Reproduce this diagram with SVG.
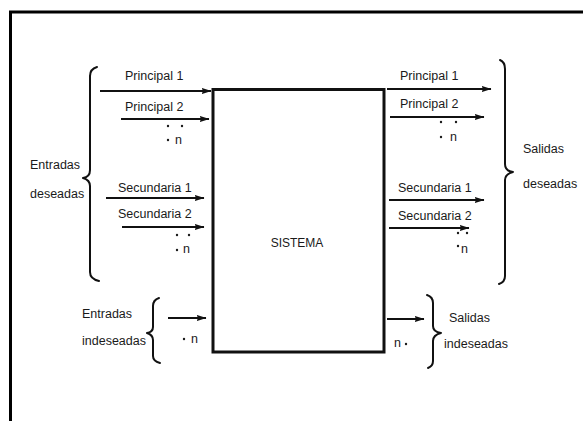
<svg xmlns="http://www.w3.org/2000/svg" width="583" height="421" viewBox="0 0 583 421">
  <defs>
    <marker id="head" viewBox="0 0 10 8" refX="9.5" refY="4" markerWidth="10" markerHeight="8" markerUnits="userSpaceOnUse" orient="auto">
      <path d="M0,0.8 L10,4 L0,7.2 L1.5,4 Z" fill="#111"/>
    </marker>
  </defs>
  <style>
    text { font-family: "Liberation Sans", Arial, sans-serif; font-size: 12.5px; fill: #1a1a1a; }
    .arrow { stroke: #111; stroke-width: 2; fill: none; marker-end: url(#head); }
    .brace { stroke: #111; stroke-width: 2; fill: none; stroke-linejoin: round; stroke-linecap: round; }
    .dot { fill: #1a1a1a; }
  </style>
  <rect width="583" height="421" fill="#fff"/>

  <!-- outer frame -->
  <path d="M10.5,421 L10.5,12 L583,12" fill="none" stroke="#000" stroke-width="3"/>

  <!-- central system block -->
  <g id="sistema">
    <rect x="213" y="89.5" width="171" height="262.5" fill="none" stroke="#111" stroke-width="3"/>
    <text x="297" y="247" text-anchor="middle" style="font-size:12px">SISTEMA</text>
  </g>

  <!-- desired inputs -->
  <g id="entradas-deseadas">
    <path class="brace" d="M97,67 Q90,69 90,76 L90,170 Q90,177 83,178 Q90,180 90,186 L90,272 Q90,279 99,281"/>
    <text x="30" y="169">Entradas</text>
    <text x="30" y="198">deseadas</text>
    <text x="125" y="80">Principal 1</text>
    <text x="125" y="111">Principal 2</text>
    <circle class="dot" cx="168" cy="126" r="1.2"/>
    <circle class="dot" cx="182" cy="126" r="1.2"/>
    <circle class="dot" cx="168" cy="140" r="1.2"/>
    <text x="175" y="144">n</text>
    <text x="118" y="192">Secundaria 1</text>
    <text x="118" y="218">Secundaria 2</text>
    <circle class="dot" cx="177" cy="235" r="1.2"/>
    <circle class="dot" cx="189" cy="235" r="1.2"/>
    <circle class="dot" cx="177" cy="250" r="1.2"/>
    <text x="183" y="253">n</text>
  </g>

  <!-- undesired inputs -->
  <g id="entradas-indeseadas">
    <path class="brace" d="M159,298 Q153,300 153,306 L153,327 Q153,332 147,333 Q153,335 153,340 L153,356 Q153,361 160,363"/>
    <text x="82" y="318">Entradas</text>
    <text x="82" y="345">indeseadas</text>
    <circle class="dot" cx="184" cy="339" r="1.2"/>
    <text x="191" y="343">n</text>
  </g>

  <!-- desired outputs -->
  <g id="salidas-deseadas">
    <path class="brace" d="M500,60 Q505,62 505,69 L505,164 Q505,171 513,172 Q505,174 505,180 L505,276 Q505,282 499,284"/>
    <text x="523" y="153">Salidas</text>
    <text x="523" y="188">deseadas</text>
    <text x="400" y="80">Principal 1</text>
    <text x="400" y="108">Principal 2</text>
    <circle class="dot" cx="441" cy="122" r="1.2"/>
    <circle class="dot" cx="456" cy="122" r="1.2"/>
    <circle class="dot" cx="441" cy="137" r="1.2"/>
    <text x="450" y="141">n</text>
    <text x="398" y="192">Secundaria 1</text>
    <text x="398" y="220">Secundaria 2</text>
    <circle class="dot" cx="458" cy="233" r="1.2"/>
    <circle class="dot" cx="467" cy="233" r="1.2"/>
    <circle class="dot" cx="458" cy="246" r="1.2"/>
    <text x="461" y="253">n</text>
  </g>

  <!-- undesired outputs -->
  <g id="salidas-indeseadas">
    <path class="brace" d="M427,295 Q433,297 433,303 L433,326 Q433,332 441,333 Q433,335 433,341 L433,361 Q433,366 428,368"/>
    <text x="449" y="322">Salidas</text>
    <text x="444" y="348">indeseadas</text>
    <text x="394" y="347">n</text>
    <circle class="dot" cx="406" cy="344" r="1.2"/>
  </g>

  <!-- flow arrows -->
  <g id="connectors">
    <line class="arrow" x1="100" y1="91" x2="211" y2="91"/>
    <line class="arrow" x1="121" y1="119" x2="209" y2="119"/>
    <line class="arrow" x1="106" y1="198" x2="204" y2="198"/>
    <line class="arrow" x1="122" y1="227" x2="204" y2="227"/>
    <line class="arrow" x1="168" y1="318" x2="206" y2="318"/>
    <line class="arrow" x1="387" y1="89" x2="491" y2="89"/>
    <line class="arrow" x1="390" y1="117" x2="484" y2="117"/>
    <line class="arrow" x1="389" y1="200" x2="484" y2="200"/>
    <line class="arrow" x1="389" y1="228" x2="469" y2="228"/>
    <line class="arrow" x1="387" y1="319" x2="424" y2="319"/>
  </g>
</svg>
